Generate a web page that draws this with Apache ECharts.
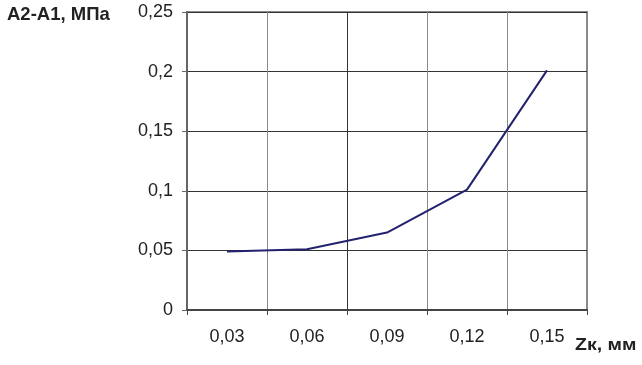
<!DOCTYPE html>
<html><head><meta charset="utf-8">
<script src="https://cdn.jsdelivr.net/npm/echarts@6/dist/echarts.min.js"></script>
<style>html,body{margin:0;padding:0;background:#fff}#c{width:642px;height:365px}</style>
</head><body><div id="c"></div>
<script>
const categories = ['0,03', '0,06', '0,09', '0,12', '0,15'];
const values = [0.049, 0.051, 0.065, 0.101, 0.201];
const yTicks = [0, 0.05, 0.1, 0.15, 0.2, 0.25];

const chart = echarts.init(document.getElementById('c'), null, {renderer: 'canvas'});
const fmt = v => String(+v.toFixed(2)).replace('.', ',');
chart.setOption({
  animation: false,
  backgroundColor: '#fff',
  grid: {left: 187, right: 55, top: 12, bottom: 55, show: true, borderColor: '#8a8a8a', borderWidth: 2, backgroundColor: 'transparent'},
  graphic: [
    {type: 'text', left: 7, top: 5, style: {text: 'A2-A1, МПа', font: 'bold 18.5px "Liberation Sans"', fill: '#222'}},
    {type: 'text', x: 575, y: 346, scaleX: 1.22, style: {text: 'Zк, мм', font: 'bold 16px "Liberation Sans"', fill: '#222', verticalAlign: 'middle'}}
  ],
  xAxis: {
    type: 'category', data: categories, boundaryGap: true,
    axisLine: {lineStyle: {color: '#444', width: 2}},
    axisTick: {show: true, length: 5, lineStyle: {color: '#444'}},
    axisLabel: {fontFamily: 'Liberation Sans', fontSize: 18, color: '#222', margin: 18},
    splitLine: {show: true, lineStyle: {color: ['#888', '#888', '#333', '#888', '#888', '#888'], width: 1}}
  },
  yAxis: {
    type: 'value', min: 0, max: 0.25, interval: 0.05,
    axisLine: {show: true, lineStyle: {color: '#666', width: 2}},
    axisTick: {show: true, length: 5, lineStyle: {color: '#666'}},
    axisLabel: {fontFamily: 'Liberation Sans', fontSize: 18, color: '#222', margin: 14, formatter: v => yTicks.includes(+v.toFixed(2)) ? fmt(v) : ''},
    splitLine: {show: true, lineStyle: {color: '#333', width: 1}}
  },
  series: [{
    type: 'line', data: values, symbol: 'none',
    lineStyle: {color: '#22226e', width: 2}
  }]
});
</script></body></html>
